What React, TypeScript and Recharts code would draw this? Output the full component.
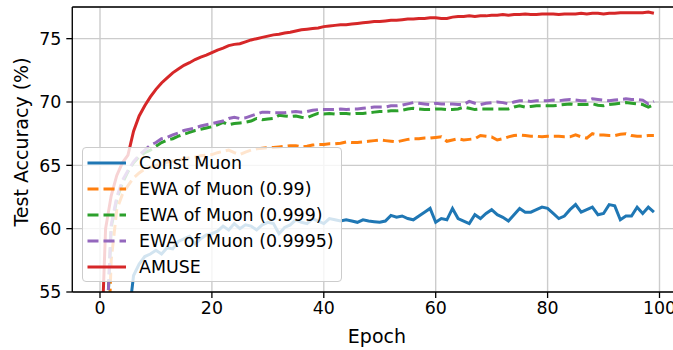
import React from 'react';
import { LineChart, Line, XAxis, YAxis, CartesianGrid, ReferenceLine, Label } from 'recharts';

// epochs 0..99
const epochs = Array.from({ length: 100 }, (_, i) => i);

const constMuon = [
  35, 42, 47, 50, 51.5, 52.5, 56.3, 57.2, 57.8, 58.0,
  58.3, 58.0, 58.5, 58.4, 59.0, 59.2, 59.4, 58.8, 59.2, 59.5,
  59.6, 59.8, 60.2, 59.9, 60.4, 60.0, 60.3, 60.2, 59.9, 60.3,
  60.5, 60.4, 59.6, 60.1, 60.3, 60.7, 60.5, 60.4, 60.8, 60.6,
  60.4, 60.8, 60.7, 60.6, 60.7, 60.6, 60.5, 60.7, 60.6, 60.55,
  60.5, 60.6, 61.05, 60.9, 61.0, 60.8, 60.7, 61.0, 61.3, 61.6,
  60.5, 60.8, 60.7, 61.6, 60.8, 60.6, 60.4, 61.1, 60.8, 61.2,
  61.5, 61.1, 60.9, 60.6, 61.1, 61.6, 61.3, 61.3, 61.5, 61.7,
  61.6, 61.2, 60.8, 61.0, 61.5, 61.9, 61.3, 61.5, 61.7, 61.1,
  61.2, 61.9, 61.8, 60.7, 61.0, 61.0, 61.7, 61.2, 61.7, 61.3,
];

const ewa099 = [
  38, 45, 57.5, 61.5, 62.7, 63.4, 64.0, 64.4, 64.7, 64.85,
  65.0, 65.1, 65.25, 65.35, 65.4, 65.5, 65.6, 65.65, 65.75, 65.8,
  65.85, 66.0, 66.1, 66.2, 66.0, 65.85, 66.05, 66.2, 66.3, 66.35,
  66.4, 66.4, 66.45, 66.5, 66.55, 66.55, 66.45, 66.5, 66.6, 66.65,
  66.65, 66.7, 66.7, 66.75, 66.85, 66.8, 66.8, 66.85, 66.9, 66.95,
  67.0, 66.95, 66.9, 66.85, 66.95, 67.05, 67.1, 67.1, 67.15, 67.15,
  67.2, 67.25, 66.9, 67.0, 67.1, 67.0, 67.05, 67.1, 67.35, 67.3,
  67.25, 67.0, 67.1, 67.25, 67.35, 67.4, 67.35, 67.3, 67.3, 67.25,
  67.3, 67.3, 67.3, 67.25, 67.25, 67.4, 67.25, 67.15, 67.5, 67.4,
  67.4, 67.35, 67.35, 67.45, 67.5, 67.35, 67.3, 67.3, 67.35, 67.35,
];

const ewa0999 = [
  40, 50, 60.1, 62.3, 63.6, 64.5, 65.2, 65.7, 66.0, 66.2,
  66.5, 66.8, 67.0, 67.1, 67.3, 67.45, 67.6, 67.75, 67.85, 67.95,
  68.05, 68.2, 68.4, 68.2, 68.3, 68.35, 68.4, 68.5, 68.7, 68.6,
  68.65, 68.7, 68.95, 68.9, 68.85, 68.9, 68.8, 68.75, 68.95, 69.1,
  69.05, 69.1, 69.05, 69.1, 69.1, 69.05, 69.1, 69.1, 69.15, 69.2,
  69.25, 69.25, 69.3, 69.3, 69.35, 69.45, 69.5, 69.45, 69.4, 69.4,
  69.45, 69.45, 69.4, 69.4, 69.45, 69.6, 69.5, 69.4, 69.45, 69.45,
  69.45, 69.45, 69.45, 69.45, 69.6, 69.7, 69.6, 69.65, 69.7, 69.7,
  69.7, 69.7, 69.75, 69.8, 69.85, 69.8, 69.8, 69.8, 69.85, 69.75,
  69.7, 69.8, 69.85, 69.9, 69.95, 69.9, 69.85, 69.8, 69.6, 69.8,
];

const ewa09995 = [
  40, 50, 60.3, 62.5, 63.8, 64.6, 65.3, 65.8, 66.2, 66.6,
  66.8, 67.1, 67.2, 67.4, 67.55, 67.75, 67.85, 67.95, 68.1, 68.2,
  68.3, 68.4, 68.5, 68.7, 68.8, 68.7, 68.75, 68.9, 69.05, 69.2,
  69.2, 69.15, 69.15, 69.15, 69.2, 69.25, 69.2, 69.25, 69.35, 69.4,
  69.4, 69.4, 69.4, 69.45, 69.4, 69.45, 69.45, 69.5, 69.55, 69.6,
  69.6, 69.6, 69.7, 69.7, 69.75, 69.85, 69.95, 69.9, 69.85, 69.8,
  69.9, 69.85, 69.85, 69.85, 69.8, 69.8, 70.05, 69.9, 69.8, 69.9,
  69.95, 70.0, 69.95, 69.85, 70.0, 70.1, 70.1, 70.05, 70.1, 70.1,
  70.1, 70.15, 70.1, 70.15, 70.2, 70.15, 70.1, 70.1, 70.25, 70.2,
  70.15, 70.1, 70.15, 70.2, 70.25, 70.2, 70.2, 70.15, 69.85, 70.05,
];

const amuse = [
  47.8, 60.0, 62.6, 64.2, 65.2, 65.8, 67.7, 68.9, 69.7, 70.4,
  71.0, 71.5, 71.9, 72.3, 72.6, 72.9, 73.1, 73.35, 73.55, 73.7,
  73.9, 74.1, 74.25, 74.45, 74.55, 74.6, 74.75, 74.9, 75.0, 75.1,
  75.2, 75.3, 75.35, 75.45, 75.5, 75.6, 75.7, 75.75, 75.8, 75.85,
  75.95, 76.0, 76.05, 76.1, 76.1, 76.15, 76.2, 76.25, 76.3, 76.35,
  76.35, 76.4, 76.45, 76.45, 76.5, 76.55, 76.55, 76.6, 76.6, 76.65,
  76.65, 76.6, 76.6, 76.7, 76.75, 76.75, 76.8, 76.75, 76.8, 76.8,
  76.85, 76.85, 76.9, 76.85, 76.9, 76.9, 76.95, 76.9, 76.9, 76.95,
  76.95, 76.95, 76.9, 76.95, 76.95, 76.95, 77.0, 76.95, 77.0, 77.0,
  76.95, 77.0, 77.0, 77.05, 77.05, 77.05, 77.05, 77.05, 77.1, 77.0,
];

const xTicks = [0, 20, 40, 60, 80, 100];
const yTicks = [55, 60, 65, 70, 75];

const series = [
  { key: 'constMuon', name: 'Const Muon', color: '#1f77b4', dashed: false },
  { key: 'ewa099', name: 'EWA of Muon (0.99)', color: '#ff7f0e', dashed: true },
  { key: 'ewa0999', name: 'EWA of Muon (0.999)', color: '#2ca02c', dashed: true },
  { key: 'ewa09995', name: 'EWA of Muon (0.9995)', color: '#9467bd', dashed: true },
  { key: 'amuse', name: 'AMUSE', color: '#d62728', dashed: false },
];

const data = epochs.map((epoch, i) => ({
  epoch,
  constMuon: constMuon[i],
  ewa099: ewa099[i],
  ewa0999: ewa0999[i],
  ewa09995: ewa09995[i],
  amuse: amuse[i],
}));

const FONT = '"DejaVu Sans", sans-serif';
const DASH = '11 5';

const YTitle = () => (
  <text
    x={21}
    y={142}
    transform="rotate(-90 21 142)"
    textAnchor="middle"
    dominantBaseline="central"
    fontFamily={FONT}
    fontSize={19}
    fill="#000"
  >
    Test Accuracy (%)
  </text>
);

const LegendBox = () => (
  <div
    style={{
      position: 'absolute',
      left: 82,
      top: 147,
      width: 260,
      height: 135,
      background: 'rgba(255,255,255,0.8)',
      border: '1px solid #cccccc',
      borderRadius: 4,
      boxSizing: 'border-box',
      fontFamily: FONT,
      fontSize: 17.4,
      color: '#000',
    }}
  >
    {series.map((s, i) => (
      <div
        key={s.key}
        style={{ position: 'absolute', left: 0, top: 14.5 + i * 26.1 - 13, height: 26, display: 'flex', alignItems: 'center' }}
      >
        <svg width={56} height={26} style={{ display: 'block' }}>
          <line
            x1={4.5}
            x2={43}
            y1={13}
            y2={13}
            stroke={s.color}
            strokeWidth={3}
            strokeDasharray={s.dashed ? DASH : undefined}
          />
        </svg>
        <span style={{ whiteSpace: 'nowrap' }}>{s.name}</span>
      </div>
    ))}
  </div>
);

export default function App() {
  return (
    <div style={{ position: 'absolute', left: 0, top: 0, width: 673, height: 350, overflow: 'hidden', background: '#fff' }}>
      <LineChart width={690} height={350} data={data} margin={{ top: 7, right: 8.4, left: 0.3, bottom: 0 }}>
        <CartesianGrid stroke="#cccccc" strokeWidth={1.4} />
        <XAxis
          dataKey="epoch"
          type="number"
          domain={[-4.95, 103.95]}
          ticks={xTicks}
          allowDataOverflow
          height={58}
          stroke="#000"
          strokeWidth={1.3}
          tickSize={6}
          tickMargin={4}
          tick={{ fill: '#000', fontFamily: FONT, fontSize: 17.4 }}
        >
          <Label value="Epoch" position="insideBottom" offset={7} fill="#000" fontFamily={FONT} fontSize={19} />
        </XAxis>
        <YAxis
          type="number"
          domain={[55, 77.5]}
          ticks={yTicks}
          allowDataOverflow
          width={72}
          stroke="#000"
          strokeWidth={1.3}
          tickSize={6}
          tickMargin={5}
          tick={{ fill: '#000', fontFamily: FONT, fontSize: 17.4 }}
        >
          <Label content={<YTitle />} />
        </YAxis>
        <ReferenceLine y={77.5} stroke="#000" strokeWidth={1.3} />
        {series.map((s) => (
          <Line
            key={s.key}
            dataKey={s.key}
            name={s.name}
            type="linear"
            stroke={s.color}
            strokeWidth={3}
            strokeDasharray={s.dashed ? DASH : undefined}
            dot={false}
            activeDot={false}
            isAnimationActive={false}
          />
        ))}
      </LineChart>
      <LegendBox />
    </div>
  );
}
